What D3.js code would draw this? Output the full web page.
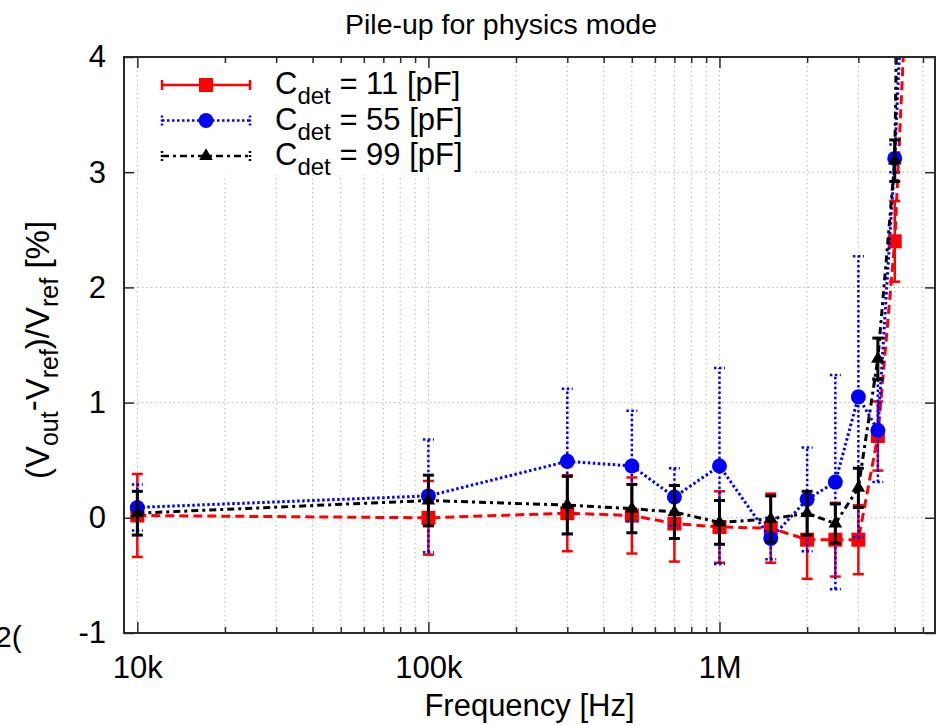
<!DOCTYPE html>
<html>
<head>
<meta charset="utf-8">
<script src="https://cdn.jsdelivr.net/npm/d3@7"></script>
<style>
  body { margin: 0; background: #fff; }
  text { font-family: "Liberation Sans", Arial, sans-serif; fill: #000; white-space: pre; }
</style>
</head>
<body>
<svg id="chart" width="943" height="725"></svg>
<script>
// Frequencies [Hz]
const freqs = [1e4, 1e5, 3e5, 5e5, 7e5, 1e6, 1.5e6, 2e6, 2.5e6, 3e6, 3.5e6, 4e6, 4.5e6];

// (Vout - Vref)/Vref [%] for each detector capacitance
const c11Vals = [0.02, 0.00, 0.04, 0.02, -0.05, -0.08, -0.09, -0.19, -0.19, -0.19, 0.71, 2.40, 5.2];
const c11Errs = [0.36, 0.32, 0.33, 0.33, 0.33, 0.31, 0.30, 0.34, 0.32, 0.30, 0.30, 0.35, 0.35];

const c55Vals = [0.09, 0.19, 0.49, 0.45, 0.18, 0.45, -0.18, 0.16, 0.31, 1.05, 0.76, 3.12, 6.0];
const c55Errs = [0.20, 0.49, 0.63, 0.48, 0.25, 0.85, 0.18, 0.45, 0.93, 1.22, 0.45, 0.12, 0.3];

const c99Vals = [0.04, 0.15, 0.11, 0.08, 0.05, -0.04, -0.01, 0.04, -0.05, 0.26, 1.38, 3.10, 12];
const c99Errs = [0.19, 0.22, 0.25, 0.21, 0.23, 0.19, 0.20, 0.19, 0.17, 0.17, 0.18, 0.18, 0.3];

const capLabels = ['11', '55', '99'];
const xTickValues = [1e4, 1e5, 1e6];
const xTickLabels = ['10k', '100k', '1M'];
const yTickValues = [-1, 0, 1, 2, 3, 4];

const series = [
  { cap: capLabels[0], vals: c11Vals, errs: c11Errs, color: '#ff0000', dash: '9,5', barDash: null, barWidth: 2.5, legendDash: null, marker: 'square' },
  { cap: capLabels[1], vals: c55Vals, errs: c55Errs, color: '#0000ff', dash: '2.5,2.5', barDash: '2.5,2.5', barWidth: 2.5, legendDash: '2.5,2.5', marker: 'circle' },
  { cap: capLabels[2], vals: c99Vals, errs: c99Errs, color: '#000000', dash: '7,4,3,4', barDash: null, barWidth: 3, legendDash: '7,4,3,4', marker: 'triangle' }
];

// Layout
const margin = { top: 57, right: 8, bottom: 92, left: 124 };
const width = 943 - margin.left - margin.right;
const height = 725 - margin.top - margin.bottom;

const svg = d3.select('#chart');
svg.append('rect').attr('width', 943).attr('height', 725).attr('fill', '#fff');

const g = svg.append('g').attr('transform', `translate(${margin.left},${margin.top})`);

const x = d3.scaleLog().domain([9000, 5.5e6]).range([0, width]);
const y = d3.scaleLinear().domain([-1, 4]).range([height, 0]);

const minorTicks = x.ticks().filter(t => t > 9000 && xTickValues.indexOf(t) < 0);

// Grid
g.append('g')
  .selectAll('line.vgrid')
  .data(minorTicks.concat(xTickValues))
  .enter().append('line')
  .attr('x1', d => x(d)).attr('x2', d => x(d))
  .attr('y1', 0).attr('y2', height)
  .attr('stroke', '#b8b8b8').attr('stroke-width', 1).attr('stroke-dasharray', '1.5,3');

g.append('g')
  .selectAll('line.hgrid')
  .data(yTickValues.slice(1, -1))
  .enter().append('line')
  .attr('x1', 0).attr('x2', width)
  .attr('y1', d => y(d)).attr('y2', d => y(d))
  .attr('stroke', '#b8b8b8').attr('stroke-width', 1).attr('stroke-dasharray', '1.5,3');

// Legend background hides grid
g.append('rect')
  .attr('x', 17).attr('y', 7).attr('width', 333).attr('height', 111)
  .attr('fill', '#fff');

// Clip for data
svg.append('clipPath').attr('id', 'plotclip')
  .append('rect').attr('width', width).attr('height', height);

const dataG = g.append('g').attr('clip-path', 'url(#plotclip)');

function drawMarker(sel, type, color) {
  if (type === 'square') {
    sel.append('rect').attr('x', -7).attr('y', -7).attr('width', 14).attr('height', 14).attr('fill', color);
  } else if (type === 'circle') {
    sel.append('circle').attr('r', 7.5).attr('fill', color);
  } else {
    sel.append('path').attr('d', d3.symbol(d3.symbolTriangle, 80)()).attr('fill', color);
  }
}

series.forEach(s => {
  const pts = freqs.map((f, i) => ({ f: f, v: s.vals[i], e: s.errs[i] }));
  const sg = dataG.append('g');

  const line = d3.line().x(d => x(d.f)).y(d => y(d.v));
  sg.append('path')
    .datum(pts)
    .attr('d', line)
    .attr('fill', 'none')
    .attr('stroke', s.color)
    .attr('stroke-width', 3)
    .attr('stroke-dasharray', s.dash);

  // Error bars
  const bars = sg.selectAll('g.bar').data(pts).enter().append('g')
    .attr('stroke', s.color).attr('stroke-width', s.barWidth)
    .attr('stroke-dasharray', s.barDash);
  bars.append('line')
    .attr('x1', d => x(d.f)).attr('x2', d => x(d.f))
    .attr('y1', d => y(d.v - d.e)).attr('y2', d => y(d.v + d.e));
  bars.append('line')
    .attr('x1', d => x(d.f) - 5.5).attr('x2', d => x(d.f) + 5.5)
    .attr('y1', d => y(d.v - d.e)).attr('y2', d => y(d.v - d.e));
  bars.append('line')
    .attr('x1', d => x(d.f) - 5.5).attr('x2', d => x(d.f) + 5.5)
    .attr('y1', d => y(d.v + d.e)).attr('y2', d => y(d.v + d.e));

  // Markers
  const marks = sg.selectAll('g.mark').data(pts).enter().append('g')
    .attr('transform', d => `translate(${x(d.f)},${y(d.v)})`);
  drawMarker(marks, s.marker, s.color);
});

// Frame
g.append('rect')
  .attr('width', width).attr('height', height)
  .attr('fill', 'none').attr('stroke', '#2a2a2a').attr('stroke-width', 2);

// Axes (inward ticks)
const fontSize = 31;
const xBottom = g.append('g').attr('transform', `translate(0,${height})`)
  .call(d3.axisBottom(x).tickValues(xTickValues).tickFormat((d, i) => xTickLabels[i]).tickSize(-11).tickPadding(23));
const xBottomMinor = g.append('g').attr('transform', `translate(0,${height})`)
  .call(d3.axisBottom(x).tickValues(minorTicks).tickFormat('').tickSize(-6));
const xTop = g.append('g')
  .call(d3.axisTop(x).tickValues(xTickValues).tickFormat('').tickSize(-11));
const xTopMinor = g.append('g')
  .call(d3.axisTop(x).tickValues(minorTicks).tickFormat('').tickSize(-6));
const yLeft = g.append('g')
  .call(d3.axisLeft(y).tickValues(yTickValues).tickFormat(d => String(d)).tickSize(-10).tickPadding(18));
const yRight = g.append('g').attr('transform', `translate(${width},0)`)
  .call(d3.axisRight(y).tickValues(yTickValues).tickFormat('').tickSize(-10));

[xBottom, xBottomMinor, xTop, xTopMinor, yLeft, yRight].forEach(a => {
  a.select('.domain').remove();
  a.selectAll('.tick line').attr('stroke', '#2a2a2a').attr('stroke-width', 1.5);
  a.selectAll('.tick text')
    .attr('font-family', '"Liberation Sans", Arial, sans-serif')
    .attr('font-size', fontSize).attr('fill', '#000');
});

// Legend
const legend = g.append('g');
series.forEach((s, i) => {
  const ly = 28 + i * 35.5;
  const row = legend.append('g');
  row.append('line')
    .attr('x1', 38).attr('x2', 126).attr('y1', ly).attr('y2', ly)
    .attr('stroke', s.color).attr('stroke-width', 2.5)
    .attr('stroke-dasharray', s.legendDash);
  [38, 126].forEach(cx => {
    row.append('line')
      .attr('x1', cx).attr('x2', cx).attr('y1', ly - 5).attr('y2', ly + 5)
      .attr('stroke', s.color).attr('stroke-width', 2.5)
      .attr('stroke-dasharray', s.legendDash ? '2,2' : null);
  });
  const m = row.append('g').attr('transform', `translate(82,${ly})`);
  drawMarker(m, s.marker, s.color);

  const t = row.append('text').attr('x', 151).attr('y', ly + 9).attr('font-size', 31);
  t.append('tspan').text('C');
  t.append('tspan').attr('font-size', 24).attr('dy', 10).text('det');
  t.append('tspan').attr('dy', -10).text(` = ${s.cap} [pF]`);
});

// Title
svg.append('text')
  .attr('x', 501).attr('y', 34)
  .attr('text-anchor', 'middle')
  .attr('font-size', 28.5)
  .text('Pile-up for physics mode');

// X label
svg.append('text')
  .attr('x', margin.left + width / 2).attr('y', 716)
  .attr('text-anchor', 'middle')
  .attr('font-size', 31)
  .text('Frequency [Hz]');

// Y label
const yl = svg.append('text')
  .attr('transform', `translate(49,350) rotate(-90)`)
  .attr('text-anchor', 'middle')
  .attr('font-size', 33);
yl.append('tspan').text('(V');
yl.append('tspan').attr('font-size', 25).attr('dy', 9).text('out');
yl.append('tspan').attr('dy', -14).text('-');
yl.append('tspan').attr('dy', 5).text('V');
yl.append('tspan').attr('font-size', 25).attr('dy', 9).text('ref');
yl.append('tspan').attr('dy', -9).text(')/V');
yl.append('tspan').attr('font-size', 25).attr('dy', 9).text('ref');
yl.append('tspan').attr('dy', -9).text(' [%]');

// Clipped text remnant at left edge
svg.append('text')
  .attr('x', -5).attr('y', 647)
  .attr('font-size', 30)
  .text('2(');
</script>
</body>
</html>
